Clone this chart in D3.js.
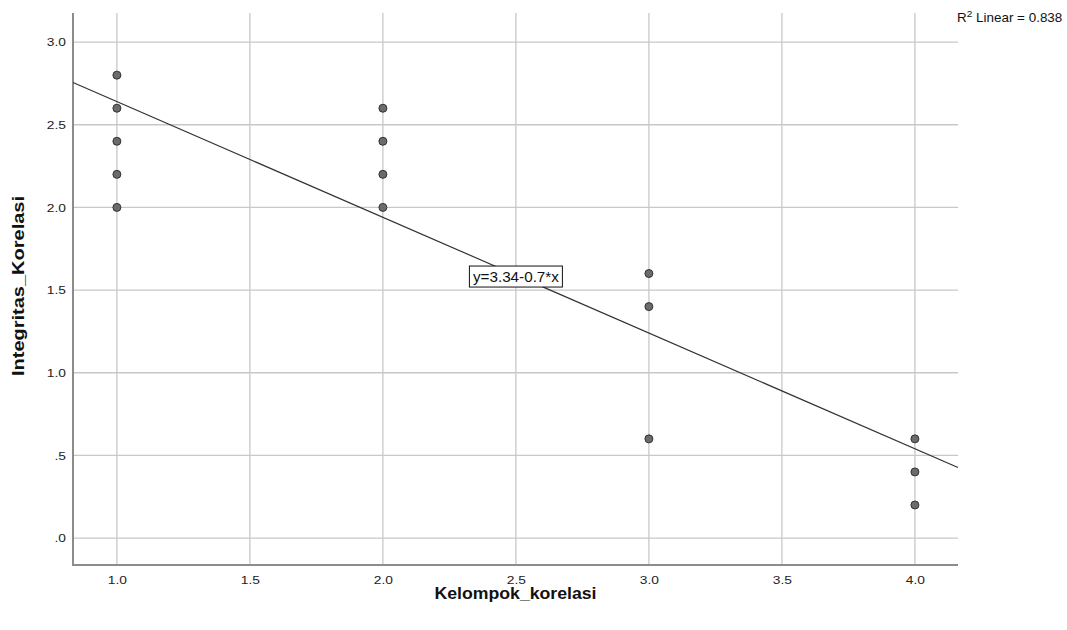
<!DOCTYPE html>
<html><head><meta charset="utf-8">
<script src="https://cdn.jsdelivr.net/npm/d3@7"></script>
<style>body{margin:0;background:#fff;} svg{display:block;font-family:"Liberation Sans",Arial,sans-serif;}</style>
</head><body>
<script>
const groups = [1,1,1,1,1, 2,2,2,2, 3,3,3, 4,4,4];
const values = [2.8,2.6,2.4,2.2,2.0, 2.6,2.4,2.2,2.0, 1.6,1.4,0.6, 0.6,0.4,0.2];
const xTicks = [1.0,1.5,2.0,2.5,3.0,3.5,4.0];
const yTicks = [0,0.5,1.0,1.5,2.0,2.5,3.0];
const intercept = 3.34, slope = -0.7;
const equationText = "y=3.34-0.7*x";
const r2Label = "0.838";
const xTitle = "Kelompok_korelasi", yTitle = "Integritas_Korelasi";

const W = 1067, H = 630;
const L = 73, R = 958, T = 13, B = 565;
const x = d3.scaleLinear().domain([0.835, 4.162]).range([L, R]);
const y = d3.scaleLinear().domain([-0.163, 3.176]).range([B, T]);

const svg = d3.select("body").append("svg").attr("width", W).attr("height", H);

// gridlines
svg.append("g").selectAll("line").data(xTicks).join("line")
  .attr("x1", d => x(d)).attr("x2", d => x(d)).attr("y1", T).attr("y2", B)
  .attr("stroke", "#c8c8c8").attr("stroke-width", 1.3);
svg.append("g").selectAll("line").data(yTicks).join("line")
  .attr("x1", L).attr("x2", R).attr("y1", d => y(d)).attr("y2", d => y(d))
  .attr("stroke", "#c8c8c8").attr("stroke-width", 1.3);

// axes
const fmt = d => { const s = d3.format(".1f")(d); return s.startsWith("0") ? s.slice(1) : s; };
const yAxis = svg.append("g").attr("transform", `translate(${L},0)`)
  .call(d3.axisLeft(y).tickValues(yTicks).tickSize(0).tickPadding(7).tickFormat(fmt));
const xAxis = svg.append("g").attr("transform", `translate(0,${B})`)
  .call(d3.axisBottom(x).tickValues(xTicks).tickSize(0).tickPadding(11).tickFormat(d3.format(".1f")));
[yAxis, xAxis].forEach(g => {
  g.select(".domain").attr("stroke", "#8c8c8c").attr("stroke-width", 2);
  g.selectAll("text").attr("font-family", "Liberation Sans, Arial, sans-serif").attr("font-size", 11.5).attr("fill", "#222")
    .style("transform-box", "fill-box").style("transform", "scaleX(1.2)");
});
yAxis.selectAll("text").style("transform-origin", "right center");
xAxis.selectAll("text").style("transform-origin", "center");
yAxis.select(".domain").attr("d", `M0,${T}V${B+1}`);
xAxis.select(".domain").attr("d", `M${L-1},0H${R}`);

// regression line
const x0 = x.domain()[0], x1 = x.domain()[1];
svg.append("line")
  .attr("x1", x(x0)).attr("y1", y(intercept + slope * x0))
  .attr("x2", x(x1)).attr("y2", y(intercept + slope * x1))
  .attr("stroke", "#333").attr("stroke-width", 1.2);

// points
svg.append("g").selectAll("circle").data(values.map((v,i)=>[groups[i], v])).join("circle")
  .attr("cx", d => x(d[0])).attr("cy", d => y(d[1])).attr("r", 4)
  .attr("fill", "#6b6b6b").attr("stroke", "#333").attr("stroke-width", 1);

// equation label
const eq = svg.append("g").attr("transform", `translate(${x(2.5)},${y(1.6) + 3})`);
eq.append("rect").attr("x", -46.5).attr("y", -10.5).attr("width", 93).attr("height", 21)
  .attr("fill", "#fff").attr("stroke", "#111").attr("stroke-width", 1);
eq.append("text").attr("x", -43).attr("dy", "0.36em")
  .attr("font-size", 15).attr("fill", "#111")
  .attr("textLength", 86).attr("lengthAdjust", "spacingAndGlyphs").text(equationText);

// R2 label
const r2 = svg.append("text").attr("x", 957).attr("y", 22).attr("font-size", 12).attr("fill", "#111")
  .style("transform-box", "fill-box").style("transform-origin", "left center").style("transform", "scaleX(1.12)");
r2.append("tspan").text("R");
r2.append("tspan").attr("dy", -5).attr("font-size", 9).text("2");
r2.append("tspan").attr("dy", 5).text(" Linear = " + r2Label);

// axis titles
svg.append("text").attr("x", (L + R) / 2 - 81).attr("y", 599)
  .attr("font-size", 16).attr("font-weight", "bold").attr("fill", "#111")
  .attr("textLength", 162).attr("lengthAdjust", "spacingAndGlyphs").text(xTitle);
svg.append("text").attr("transform", `translate(24,${376}) rotate(-90)`)
  .attr("font-size", 16).attr("font-weight", "bold").attr("fill", "#111")
  .attr("textLength", 180).attr("lengthAdjust", "spacingAndGlyphs").text(yTitle);
</script>
</body></html>
